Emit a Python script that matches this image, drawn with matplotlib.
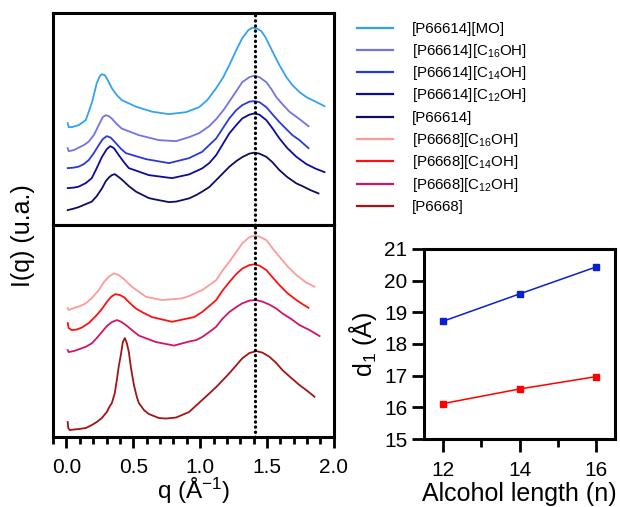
import matplotlib
matplotlib.use("Agg")
import matplotlib.pyplot as plt
from matplotlib.lines import Line2D
from matplotlib.ticker import MultipleLocator

plt.rcParams['font.family'] = ['Liberation Sans', 'DejaVu Sans']
plt.rcParams['mathtext.fontset'] = 'custom'
plt.rcParams['mathtext.rm'] = 'Liberation Sans'
plt.rcParams['mathtext.it'] = 'Liberation Sans:italic'

# ---- P66614 series (top panel), intensity in arbitrary units, curves offset ----
q_mo = [0.01, 0.017, 0.04, 0.092, 0.145, 0.19, 0.227, 0.25, 0.265, 0.287, 0.302, 0.34, 0.377, 0.415, 0.52, 0.64, 0.767,
        0.895, 0.993, 1.053, 1.12, 1.173, 1.218, 1.27, 1.315, 1.36, 1.39, 1.428, 1.458, 1.488, 1.518, 1.555,
        1.593, 1.645, 1.69, 1.743, 1.795, 1.84, 1.885, 1.93]
i_mo = [1.02, 0.98, 0.98, 1.00, 1.05, 1.22, 1.42, 1.49, 1.51, 1.50, 1.47, 1.37, 1.30, 1.25, 1.185, 1.135, 1.11,
        1.13, 1.18, 1.25, 1.37, 1.48, 1.60, 1.75, 1.87, 1.95, 1.975, 1.965, 1.94, 1.88, 1.80, 1.70,
        1.60, 1.48, 1.40, 1.33, 1.28, 1.25, 1.22, 1.19]

q_c16 = [0.01, 0.017, 0.055, 0.092, 0.13, 0.167, 0.205, 0.242, 0.272, 0.295, 0.317, 0.34, 0.377, 0.415, 0.542,
         0.692, 0.82, 0.917, 0.993, 1.068, 1.12, 1.18, 1.24, 1.315, 1.368, 1.405, 1.443, 1.495, 1.533, 1.57,
         1.615, 1.667, 1.743, 1.81]
i_c16 = [0.77, 0.74, 0.75, 0.775, 0.80, 0.835, 0.90, 1.00, 1.08, 1.10, 1.09, 1.065, 1.01, 0.965, 0.90,
         0.85, 0.84, 0.88, 0.92, 0.99, 1.06, 1.16, 1.28, 1.43, 1.48, 1.495, 1.48, 1.43, 1.36, 1.28,
         1.21, 1.135, 1.06, 0.99]

q_c14 = [0.01, 0.055, 0.092, 0.13, 0.167, 0.205, 0.242, 0.272, 0.302, 0.332, 0.37, 0.407, 0.445, 0.595, 0.767,
         0.917, 1.015, 1.12, 1.18, 1.218, 1.27, 1.315, 1.368, 1.405, 1.443, 1.495, 1.54, 1.593, 1.645, 1.69,
         1.743, 1.81]
i_c14 = [0.57, 0.575, 0.585, 0.61, 0.65, 0.72, 0.80, 0.86, 0.89, 0.875, 0.82, 0.765, 0.72, 0.66, 0.62,
         0.67, 0.733, 0.867, 0.99, 1.067, 1.15, 1.20, 1.235, 1.24, 1.23, 1.18, 1.11, 1.03, 0.96, 0.90,
         0.85, 0.77]

q_c12 = [0.01, 0.055, 0.092, 0.145, 0.19, 0.227, 0.265, 0.302, 0.329, 0.355, 0.392, 0.43, 0.467, 0.617, 0.79,
         0.917, 1.015, 1.068, 1.12, 1.165, 1.218, 1.27, 1.315, 1.368, 1.405, 1.443, 1.495, 1.54, 1.593, 1.652,
         1.72, 1.795, 1.863, 1.93]
i_c12 = [0.37, 0.375, 0.385, 0.42, 0.47, 0.57, 0.68, 0.76, 0.79, 0.77, 0.70, 0.63, 0.57, 0.50, 0.47,
         0.507, 0.567, 0.62, 0.70, 0.80, 0.917, 1.00, 1.067, 1.105, 1.117, 1.105, 1.05, 0.97, 0.867, 0.77,
         0.683, 0.61, 0.565, 0.53]

q_p14 = [0.01, 0.055, 0.092, 0.145, 0.19, 0.227, 0.265, 0.295, 0.317, 0.34, 0.362, 0.392, 0.415, 0.467, 0.52,
         0.617, 0.67, 0.767, 0.82, 0.917, 0.97, 1.015, 1.068, 1.12, 1.218, 1.27, 1.315, 1.368, 1.405, 1.443,
         1.495, 1.54, 1.593, 1.652, 1.72, 1.765, 1.825, 1.885]
i_p14 = [0.15, 0.165, 0.18, 0.21, 0.235, 0.29, 0.365, 0.44, 0.475, 0.50, 0.51, 0.48, 0.455, 0.39, 0.335,
         0.27, 0.255, 0.23, 0.235, 0.267, 0.30, 0.335, 0.38, 0.45, 0.583, 0.64, 0.68, 0.715, 0.725, 0.715,
         0.683, 0.63, 0.55, 0.48, 0.417, 0.39, 0.35, 0.317]

# ---- P6668 series (bottom panel) ----
q_r16 = [0.01, 0.017, 0.055, 0.092, 0.145, 0.19, 0.242, 0.28, 0.317, 0.355, 0.392, 0.43, 0.49, 0.595, 0.715,
         0.865, 0.917, 1.015, 1.068, 1.12, 1.165, 1.218, 1.27, 1.315, 1.368, 1.405, 1.443, 1.495, 1.54, 1.593,
         1.652, 1.72, 1.788, 1.855]
i_r16 = [1.29, 1.27, 1.29, 1.305, 1.337, 1.39, 1.47, 1.55, 1.603, 1.637, 1.62, 1.58, 1.503, 1.403, 1.37,
         1.387, 1.41, 1.47, 1.52, 1.57, 1.66, 1.753, 1.85, 1.937, 2.00, 2.013, 2.005, 1.97, 1.89, 1.803,
         1.71, 1.62, 1.55, 1.503]

q_r14 = [0.01, 0.017, 0.04, 0.077, 0.115, 0.167, 0.22, 0.265, 0.302, 0.332, 0.366, 0.40, 0.43, 0.467, 0.52,
         0.58, 0.64, 0.79, 0.955, 1.015, 1.068, 1.12, 1.165, 1.218, 1.27, 1.315, 1.368, 1.405, 1.443, 1.495,
         1.54, 1.593, 1.652, 1.72, 1.765, 1.81]
i_r14 = [1.14, 1.09, 1.07, 1.075, 1.095, 1.14, 1.21, 1.28, 1.35, 1.40, 1.43, 1.42, 1.40, 1.35, 1.285,
         1.24, 1.20, 1.153, 1.20, 1.25, 1.31, 1.37, 1.46, 1.55, 1.63, 1.685, 1.72, 1.727, 1.715, 1.67,
         1.60, 1.52, 1.44, 1.37, 1.33, 1.293]

q_r12 = [0.01, 0.017, 0.055, 0.092, 0.145, 0.19, 0.227, 0.265, 0.302, 0.34, 0.377, 0.407, 0.445, 0.49, 0.542,
         0.67, 0.805, 0.917, 0.97, 1.015, 1.068, 1.12, 1.165, 1.218, 1.27, 1.315, 1.368, 1.42, 1.465, 1.518,
         1.57, 1.615, 1.682, 1.743, 1.818, 1.893]
i_r12 = [0.87, 0.85, 0.86, 0.877, 0.903, 0.937, 0.99, 1.05, 1.11, 1.15, 1.17, 1.155, 1.12, 1.07, 1.015,
         0.95, 0.915, 0.955, 0.97, 1.00, 1.05, 1.103, 1.18, 1.25, 1.30, 1.337, 1.365, 1.37, 1.355, 1.325,
         1.285, 1.237, 1.18, 1.12, 1.07, 1.01]

q_p8 = [0.01, 0.014, 0.025, 0.055, 0.092, 0.145, 0.19, 0.227, 0.265, 0.302, 0.325, 0.34, 0.362, 0.377, 0.392,
        0.407, 0.422, 0.437, 0.452, 0.467, 0.482, 0.505, 0.527, 0.542, 0.58, 0.617, 0.692, 0.745, 0.82, 0.917,
        1.015, 1.068, 1.12, 1.218, 1.315, 1.368, 1.42, 1.465, 1.518, 1.57, 1.615, 1.682, 1.743, 1.803, 1.855]
i_p8 = [0.15, 0.09, 0.07, 0.075, 0.08, 0.09, 0.12, 0.15, 0.19, 0.25, 0.31, 0.34, 0.44, 0.57, 0.71,
        0.82, 0.95, 0.99, 0.94, 0.85, 0.70, 0.52, 0.40, 0.34, 0.27, 0.23, 0.19, 0.185, 0.195, 0.25,
        0.37, 0.435, 0.50, 0.637, 0.787, 0.84, 0.86, 0.845, 0.803, 0.74, 0.67, 0.59, 0.52, 0.46, 0.403]

top_labels = ['[P66614][MO]', '[P66614][C$_{16}$OH]', '[P66614][C$_{14}$OH]', '[P66614][C$_{12}$OH]', '[P66614]']
bot_labels = ['[P6668][C$_{16}$OH]', '[P6668][C$_{14}$OH]', '[P6668][C$_{12}$OH]', '[P6668]']
top_colors = ['#33a2f2', '#7373e6', '#2a3bd4', '#0c0c9c', '#0d0d62']
bot_colors = ['#ff9a9a', '#ff1010', '#d0146a', '#a41414']

peak_q = 1.41

# ---- inset: d-spacing vs alcohol chain length ----
n_alc = [12, 14, 16]
d_p66614 = [18.72, 19.58, 20.43]
d_p6668 = [16.12, 16.58, 16.97]

fig = plt.figure(figsize=(6.2, 5.07), dpi=100)
ax_top = fig.add_axes([0.0855, 0.556, 0.453, 0.418])
ax_bot = fig.add_axes([0.0855, 0.138, 0.453, 0.418])

top_data = [(q_mo, i_mo), (q_c16, i_c16), (q_c14, i_c14), (q_c12, i_c12), (q_p14, i_p14)]
bot_data = [(q_r16, i_r16), (q_r14, i_r14), (q_r12, i_r12), (q_p8, i_p8)]

for (q, i), c in zip(top_data, top_colors):
    ax_top.plot(q, i, color=c, lw=1.3)
for (q, i), c in zip(bot_data, bot_colors):
    ax_bot.plot(q, i, color=c, lw=1.3)

for ax in (ax_top, ax_bot):
    ax.axvline(peak_q, color='k', lw=2.3, linestyle=(0, (0.1, 1.5)), dash_capstyle='round')
    ax.set_xlim(-0.1, 2.0)
    ax.set_ylim(0, 2.12)
    ax.set_yticks([])
    for s in ax.spines.values():
        s.set_linewidth(2.2)

ax_top.set_xticks([])
ax_bot.xaxis.set_minor_locator(MultipleLocator(0.1))
ax_bot.set_xticks([0.0, 0.5, 1.0, 1.5, 2.0])
ax_bot.set_xticklabels(['0.0', '0.5', '1.0', '1.5', '2.0'])
ax_bot.tick_params(axis='x', which='major', length=8, width=2, labelsize=15, pad=7)
ax_bot.tick_params(axis='x', which='minor', length=5, width=2)
ax_bot.set_xlabel('q (Å$^{\\mathregular{-1}}$)', fontsize=17.5, labelpad=-1)

fig.text(0.037, 0.536, 'I(q) (u.a.)', rotation=90, ha='center', va='center', fontsize=18)

# legend drawn by hand to keep even row pitch
for k, (lab, c) in enumerate(zip(top_labels + bot_labels, top_colors + bot_colors)):
    y = 1 - (27.5 + k * 22.3) / 507
    fig.add_artist(Line2D([0.576, 0.634], [y, y], transform=fig.transFigure, color=c, lw=1.6))
    fig.text(0.665, y - 5 / 507, lab, fontsize=10.8, ha='left', va='baseline')

ax_in = fig.add_axes([0.684, 0.134, 0.308, 0.375])
ax_in.plot(n_alc, d_p66614, color='#0a1fd0', marker='s', ms=5, lw=1.1)
ax_in.plot(n_alc, d_p6668, color='#ff0000', marker='s', ms=5, lw=1.1)
ax_in.set_xlim(11.5, 16.5)
ax_in.set_ylim(15, 21)
ax_in.set_xticks([12, 14, 16])
ax_in.xaxis.set_minor_locator(MultipleLocator(1))
ax_in.set_yticks(range(15, 22))
ax_in.tick_params(which='major', length=9, width=2, labelsize=15, pad=3)
ax_in.tick_params(axis='x', which='major', pad=7)
ax_in.tick_params(which='minor', length=5.5, width=2)
for s in ax_in.spines.values():
    s.set_linewidth(2.2)
ax_in.set_xlabel('Alcohol length (n)', fontsize=18, labelpad=1)
ax_in.set_ylabel('d$_1$ (Å)', fontsize=18, labelpad=4)

fig.savefig('out.png', dpi=100)
